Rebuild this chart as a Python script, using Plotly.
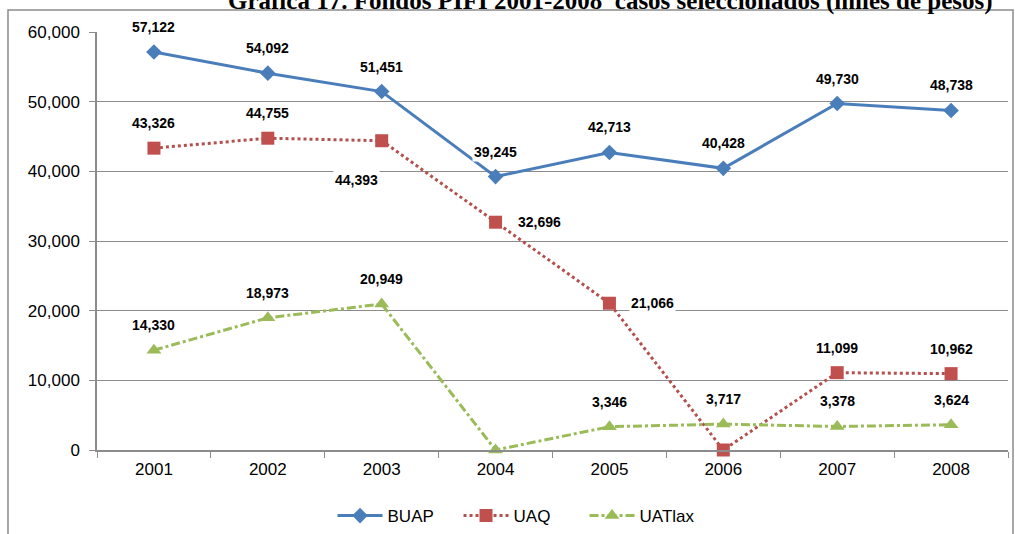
import plotly.graph_objects as go

years = ["2001", "2002", "2003", "2004", "2005", "2006", "2007", "2008"]
buap = [57122, 54092, 51451, 39245, 42713, 40428, 49730, 48738]
uaq = [43326, 44755, 44393, 32696, 21066, 0, 11099, 10962]
uatlax = [14330, 18973, 20949, 0, 3346, 3717, 3378, 3624]
y_ticks = [0, 10000, 20000, 30000, 40000, 50000, 60000]

# label placement per point (style only)
buap_pos = ["above"] * 8
uaq_pos = ["above", "above", "belowleft", "right", "right", "none", "above", "above"]
uatlax_pos = ["above", "above", "above", "none", "above", "above", "above", "above"]

fig = go.Figure()
fig.add_trace(go.Scatter(
    x=years, y=buap, name="BUAP", mode="lines+markers", cliponaxis=False,
    line=dict(color="#4a7ebb", width=3),
    marker=dict(symbol="diamond", size=12, color="#4a7ebb")))
fig.add_trace(go.Scatter(
    x=years, y=uaq, name="UAQ", mode="lines+markers", cliponaxis=False,
    line=dict(color="#b3504d", width=3, dash="dot"),
    marker=dict(symbol="square", size=13, color="#c0504d")))
fig.add_trace(go.Scatter(
    x=years, y=uatlax, name="UATlax", mode="lines+markers", cliponaxis=False,
    line=dict(color="#9bbb59", width=3, dash="dashdot"),
    marker=dict(symbol="triangle-up", size=13, color="#9bbb59")))

annotations = []
for vals, poss in [(buap, buap_pos), (uaq, uaq_pos), (uatlax, uatlax_pos)]:
    for i, (v, p) in enumerate(zip(vals, poss)):
        if p == "none":
            continue
        a = dict(x=i, y=v, xref="x", yref="y", text=f"<b>{v:,}</b>", showarrow=False,
                 font=dict(family="Liberation Sans, Arial", size=14, color="#000000"),
                 bgcolor="white", borderpad=1)
        if p == "above":
            a.update(yshift=25, xanchor="center", yanchor="middle")
        elif p == "right":
            a.update(xshift=20, xanchor="left", yanchor="middle")
        elif p == "belowleft":
            a.update(xshift=-25, yshift=-39, xanchor="center", yanchor="middle")
        annotations.append(a)

annotations.append(dict(
    text="<b>Gráfica 17. Fondos PIFI 2001-2008  casos seleccionados (miles de pesos)</b>",
    xref="paper", yref="paper", x=0.564, y=1.036, xanchor="center", yanchor="bottom",
    showarrow=False, font=dict(family="Liberation Serif, Times New Roman", size=25, color="#000000")))

fig.update_layout(
    width=1015, height=534,
    margin=dict(l=97, r=7, t=32, b=84, autoexpand=False),
    paper_bgcolor="white", plot_bgcolor="white",
    font=dict(family="Liberation Sans, Arial", size=17, color="#000000"),
    annotations=annotations,
    showlegend=True,
    legend=dict(orientation="h", x=0.466, y=-0.158, xanchor="center", yanchor="middle",
                font=dict(size=17), itemwidth=45, entrywidth=66, entrywidthmode="pixels",
                traceorder="normal"),
    shapes=[dict(type="rect", xref="paper", yref="paper",
                 x0=-0.0977, x1=1.0055, y0=-0.3, y1=1.0526,
                 line=dict(color="#8c8c8c", width=1.5), layer="below")],
)
fig.update_xaxes(
    type="category", range=[-0.5, 7.5], tickson="boundaries",
    ticks="outside", ticklen=6, tickcolor="#8c8c8c", automargin=False,
    ticklabelstandoff=3,
    showline=True, linecolor="#8c8c8c", linewidth=1.5,
    showgrid=False, tickfont=dict(size=17))
fig.update_yaxes(
    range=[0, 60000], tickvals=y_ticks, tickformat=",", automargin=False,
    ticks="outside", ticklen=6, tickcolor="#8c8c8c", ticklabelstandoff=6,
    showline=True, linecolor="#8c8c8c", linewidth=1.5,
    showgrid=True, gridcolor="#8c8c8c", gridwidth=1.2,
    zeroline=False, tickfont=dict(size=17))

fig.write_html("out.html", config={"displayModeBar": False},
               post_script="document.body.style.margin='0';")
